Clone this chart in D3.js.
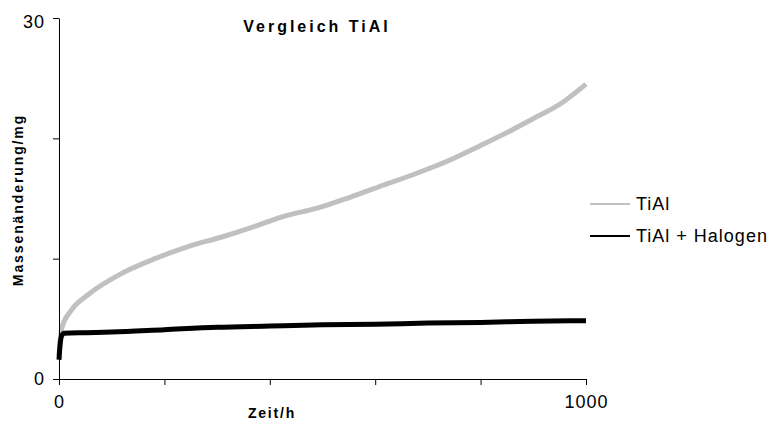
<!DOCTYPE html>
<html>
<head>
<meta charset="utf-8">
<script src="https://cdn.jsdelivr.net/npm/d3@7"></script>
<style>
  html, body { margin: 0; padding: 0; background: #fff; }
  svg { display: block; }
  text { font-family: "Liberation Sans", Arial, sans-serif; fill: #000; }
</style>
</head>
<body>
<svg id="chart" width="771" height="424"></svg>
<script>
// Mass change over time (h) for TiAl with and without halogen treatment
const timeTiAl = [0, 5, 25, 55, 120, 182, 245, 309, 366, 425, 490, 552, 615, 679, 742, 800, 860, 894, 956, 1000];
const massTiAl = [2.0, 4.2, 5.8, 7.0, 8.8, 10.0, 11.0, 11.8, 12.6, 13.5, 14.2, 15.1, 16.1, 17.1, 18.2, 19.4, 20.7, 21.5, 23.0, 24.5];

const timeHalogen = [0, 2, 5, 10, 50, 100, 200, 300, 400, 500, 600, 700, 800, 900, 1000];
const massHalogen = [1.6, 2.8, 3.6, 3.8, 3.85, 3.9, 4.1, 4.3, 4.4, 4.5, 4.55, 4.65, 4.7, 4.8, 4.85];

const xTicks = [0, 200, 400, 600, 800, 1000];
const xTickLabels = ["0", "", "", "", "", "1000"];
const yTicks = [0, 10, 20, 30];
const yTickLabels = ["0", "", "", "30"];

const seriesNames = ["TiAl", "TiAl + Halogen"];
const seriesColors = ["#c0c0c0", "#000000"];

const svg = d3.select("#chart");
const plot = { left: 59, top: 18, right: 586, bottom: 379 };

const x = d3.scaleLinear().domain([0, 1000]).range([plot.left, plot.right]);
const y = d3.scaleLinear().domain([0, 30]).range([plot.bottom, plot.top]);

const series = [
  { name: seriesNames[0], color: seriesColors[0], t: timeTiAl, m: massTiAl },
  { name: seriesNames[1], color: seriesColors[1], t: timeHalogen, m: massHalogen }
];

const line = d3.line()
  .x(d => x(d[0]))
  .y(d => y(d[1]))
  .curve(d3.curveMonotoneX);

// Data lines (thick, as the measured signal forms a dense band)
series.forEach(s => {
  svg.append("path")
    .datum(s.t.map((t, i) => [t, s.m[i]]))
    .attr("fill", "none")
    .attr("stroke", s.color)
    .attr("stroke-width", 5)
    .attr("stroke-linejoin", "round")
    .attr("d", line);
});

// Axes
const xAxis = d3.axisBottom(x).tickValues(xTicks)
  .tickFormat((d, i) => xTickLabels[i]).tickSize(6).tickSizeOuter(0).tickPadding(10);
const yAxis = d3.axisLeft(y).tickValues(yTicks)
  .tickFormat((d, i) => yTickLabels[i]).tickSize(6).tickSizeOuter(0).tickPadding(8);

const gx = svg.append("g").attr("transform", `translate(0,${plot.bottom})`).call(xAxis);
const gy = svg.append("g").attr("transform", `translate(${plot.left},0)`).call(yAxis);
[gx, gy].forEach(g => {
  g.select(".domain").attr("stroke", "#000").attr("stroke-width", 1);
  g.selectAll(".tick line").attr("stroke", "#000").attr("stroke-width", 1);
  g.selectAll(".tick text").attr("font-size", 18).attr("font-family", "Liberation Sans, Arial, sans-serif").attr("letter-spacing", 1);
});
// top label sits just below its tick, clear of the frame edge
gy.selectAll(".tick text").filter(d => d === 30).attr("dy", "0.55em");

// Title
svg.append("text")
  .attr("x", 317).attr("y", 32)
  .attr("text-anchor", "middle")
  .attr("font-size", 16).attr("font-weight", "bold")
  .attr("letter-spacing", 3)
  .text("Vergleich TiAl");

// Axis titles
svg.append("text")
  .attr("x", 272).attr("y", 418)
  .attr("text-anchor", "middle")
  .attr("font-size", 14).attr("font-weight", "bold")
  .attr("letter-spacing", 1.8)
  .text("Zeit/h");

svg.append("text")
  .attr("transform", "translate(23,200) rotate(-90)")
  .attr("text-anchor", "middle")
  .attr("font-size", 14).attr("font-weight", "bold")
  .attr("letter-spacing", 1.9)
  .text("Massenänderung/mg");

// Legend
const legend = svg.append("g");
series.forEach((s, i) => {
  const ly = 204 + i * 32;
  legend.append("line")
    .attr("x1", 590).attr("x2", 630).attr("y1", ly).attr("y2", ly)
    .attr("stroke", s.color).attr("stroke-width", 2);
  legend.append("text")
    .attr("x", 636).attr("y", ly + 6)
    .attr("font-size", 18).attr("letter-spacing", 1)
    .text(s.name);
});
</script>
</body>
</html>
